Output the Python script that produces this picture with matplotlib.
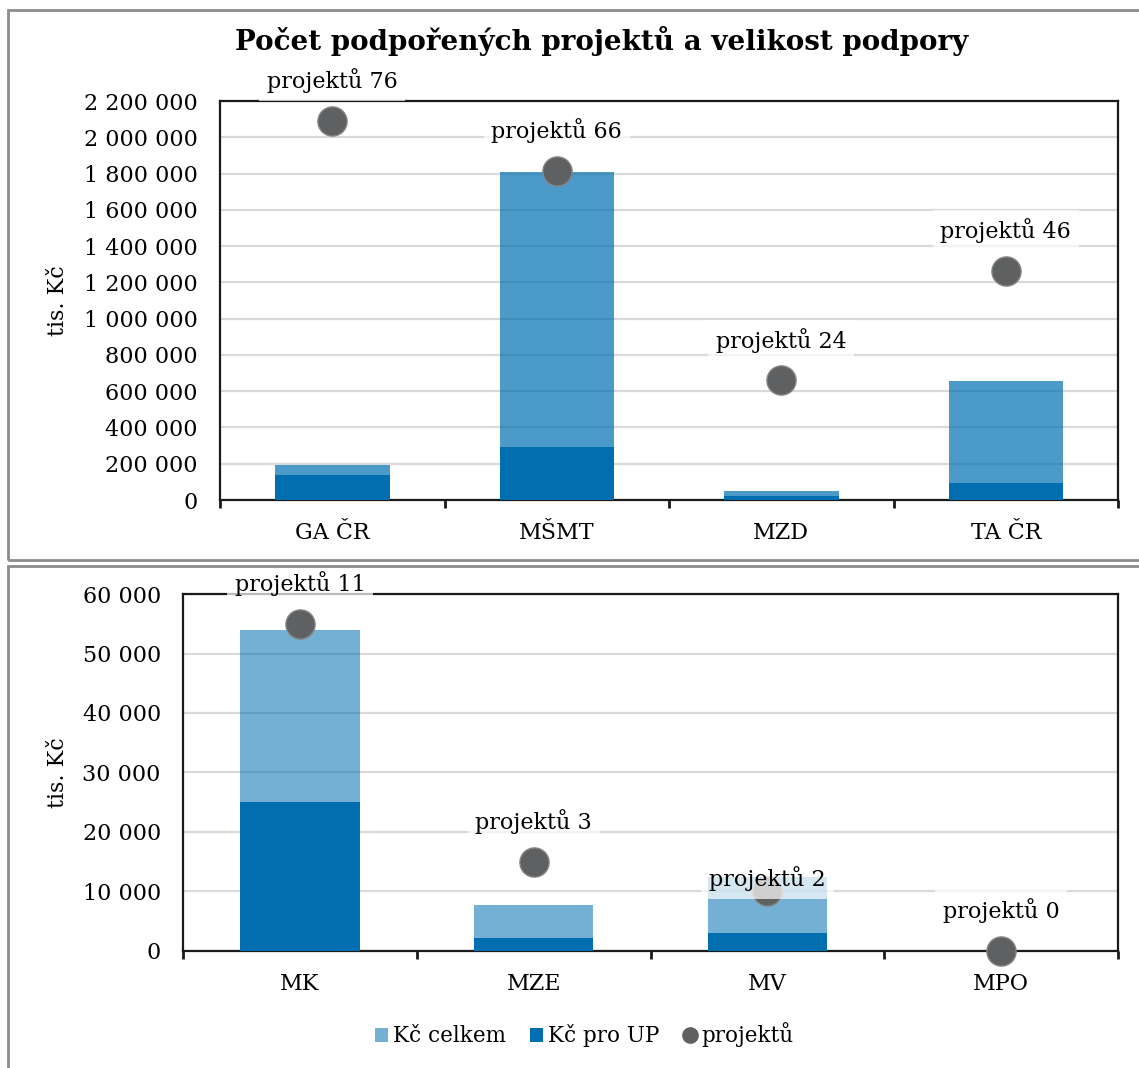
import matplotlib
matplotlib.use("Agg")
import matplotlib.pyplot as plt
from matplotlib.patches import Rectangle, Patch
from matplotlib.lines import Line2D
from matplotlib.ticker import FuncFormatter, MultipleLocator
import numpy as np

plt.rcParams['font.family'] = ['DejaVu Serif']

# ---- data ----
title = "Počet podpořených projektů a velikost podpory"
top_cats = ["GA ČR", "MŠMT", "MZD", "TA ČR"]
top_total = [195000, 1810000, 50000, 655000]
top_up = [140000, 295000, 25000, 95000]
top_projects = [76, 66, 24, 46]

bot_cats = ["MK", "MZE", "MV", "MPO"]
bot_total = [54000, 7700, 12400, 0]
bot_up = [25000, 2200, 3000, 0]
bot_projects = [11, 3, 2, 0]

ylabel = "tis. Kč"
legend_labels = ["Kč celkem", "Kč pro UP", "projektů"]

BASE = "#0070b0"
UP_COL = "#006eaf"
DOT = "#5f6062"
GRID = "#d9d9d9"

fig = plt.figure(figsize=(11.39, 10.68), dpi=100)

# panel frames
fig.patches.append(Rectangle((0.007, 0.4757), 1.2, 0.515, transform=fig.transFigure,
                             fill=False, edgecolor="#8c8c8c", lw=2, zorder=0))
fig.patches.append(Rectangle((0.007, -0.1), 1.2, 0.570, transform=fig.transFigure,
                             fill=False, edgecolor="#8c8c8c", lw=2, zorder=0))

fmt = FuncFormatter(lambda v, p: f"{int(round(v)):,}".replace(",", " "))


def panel(rect, cats, total, up, proj, ymax, ystep, pmax, alpha_tot, ylab_x,
          label_offsets):
    ax = fig.add_axes(rect)
    x = np.arange(len(cats))
    ax.set_xlim(-0.5, len(cats) - 0.5)
    ax.set_ylim(0, ymax)
    ax.yaxis.set_major_locator(MultipleLocator(ystep))
    ax.yaxis.set_major_formatter(fmt)
    ax.grid(axis='y', color=GRID, lw=1.6, zorder=0)
    ax.set_axisbelow(True)
    ax.bar(x, total, width=0.51, color=BASE, alpha=alpha_tot, zorder=2)
    ax.bar(x, up, width=0.51, color=UP_COL, zorder=3)
    for s in ax.spines.values():
        s.set_color("#1a1a1a")
        s.set_linewidth(1.6)
    ax.set_xticks(x)
    ax.set_xticklabels(cats)
    ax.set_xticks(np.arange(-0.5, len(cats), 1.0), minor=True)
    ax.tick_params(axis='x', which='major', length=0, pad=16, labelsize=16)
    ax.tick_params(axis='x', which='minor', length=6, width=2, direction='out', color="#1a1a1a")
    ax.tick_params(axis='y', length=0, pad=16, labelsize=16)
    ax.set_ylabel(ylabel, fontsize=16)
    ax.yaxis.set_label_coords(ylab_x, 0.5)

    ax2 = ax.twinx()
    ax2.set_ylim(0, pmax)
    ax2.axis('off')
    ax2.plot(x, proj, linestyle='none', marker='o', markersize=21,
             markerfacecolor=DOT, markeredgecolor="#858585", markeredgewidth=1,
             zorder=4, clip_on=False)
    for xi, p, off in zip(x, proj, label_offsets):
        ax2.annotate(f"projektů {p}", (xi, p), xytext=(0, off), textcoords='offset points',
                     ha='center', va='center', fontsize=16, zorder=6, annotation_clip=False,
                     bbox=dict(boxstyle='square,pad=0.35', fc='white', ec='none', alpha=0.7))
    return ax

panel([0.1932, 0.5318, 0.7884, 0.3736], top_cats, top_total, top_up, top_projects,
      2200000, 200000, 80, 0.7, -0.168, [29, 29, 29, 29])
panel([0.1607, 0.1096, 0.8209, 0.3342], bot_cats, bot_total, bot_up, bot_projects,
      60000, 10000, 12, 0.55, -0.122, [29, 29, 9, 29])

fig.text(0.528, 0.962, title, ha='center', va='center', fontsize=20, fontweight='bold')

handles = [Patch(facecolor=BASE, alpha=0.55), Patch(facecolor=UP_COL),
           Line2D([], [], linestyle='none', marker='o', markersize=11,
                  markerfacecolor=DOT, markeredgecolor=DOT)]
fig.legend(handles, legend_labels, loc='center', bbox_to_anchor=(0.513, 0.031), ncol=3,
           frameon=False, fontsize=15.5, handlelength=0.6, handleheight=0.6,
           handletextpad=0.25, columnspacing=1.1)

fig.savefig("out.png", dpi=100)
